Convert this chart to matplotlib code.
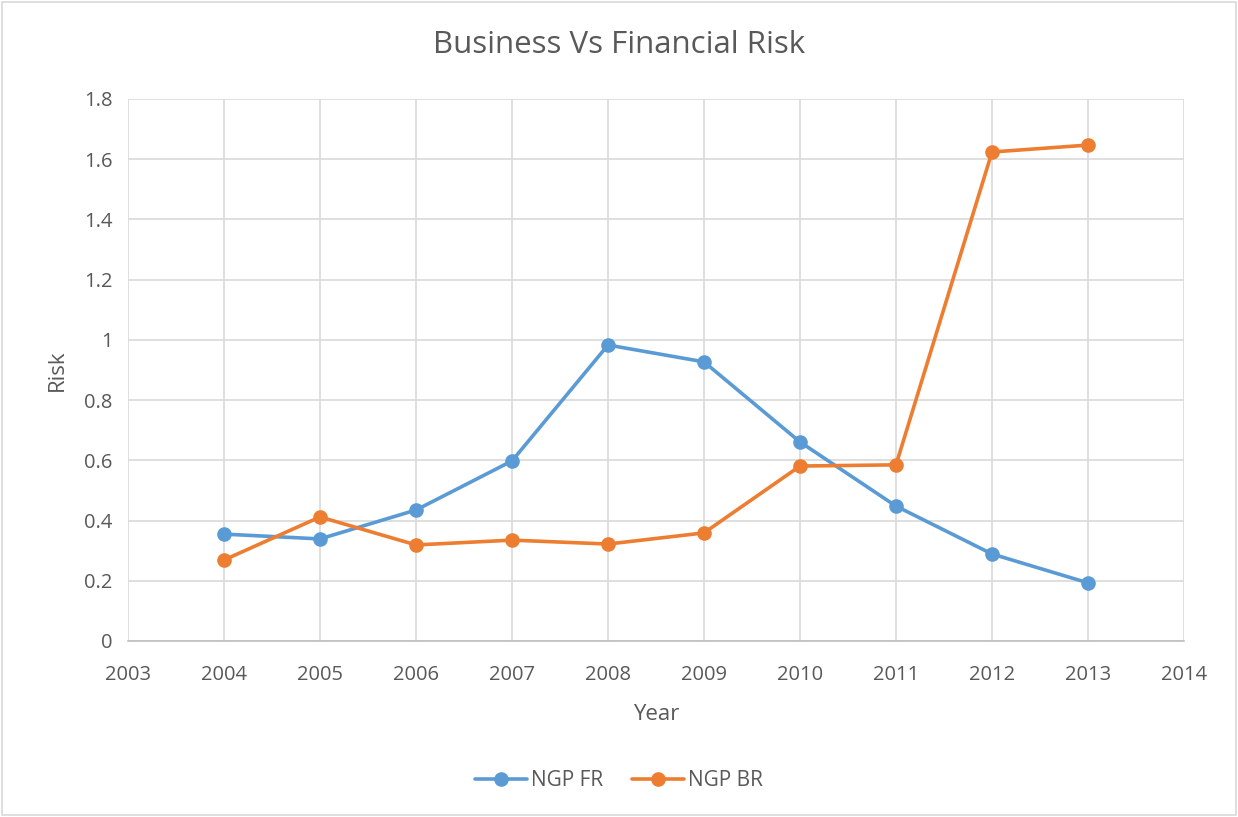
import matplotlib
matplotlib.use('Agg')
import matplotlib.pyplot as plt
from matplotlib.patches import FancyBboxPatch

plt.rcParams['font.family'] = ['Open Sans', 'DejaVu Sans']

# data
years = [2004, 2005, 2006, 2007, 2008, 2009, 2010, 2011, 2012, 2013]
ngp_fr = [0.355, 0.339, 0.435, 0.598, 0.983, 0.927, 0.661, 0.448, 0.289, 0.193]
ngp_br = [0.269, 0.412, 0.319, 0.335, 0.322, 0.359, 0.581, 0.585, 1.624, 1.647]
y_ticks = [0, 0.2, 0.4, 0.6, 0.8, 1, 1.2, 1.4, 1.6, 1.8]
y_labels = ['0', '0.2', '0.4', '0.6', '0.8', '1', '1.2', '1.4', '1.6', '1.8']

txt = '#595959'
grid = '#D9D9D9'

fig = plt.figure(figsize=(12.38, 8.17), dpi=100)
ax = fig.add_axes([128/1238, 1-641/817, (1184-128)/1238, (641-99)/817])

# chart border
fig.patches.append(FancyBboxPatch((0.002, 0.002), 0.996, 0.996, boxstyle='square,pad=0',
                                  transform=fig.transFigure, fill=False,
                                  edgecolor='#D9D9D9', linewidth=1.2))

ax.plot(years, ngp_fr, color='#5B9BD5', lw=2.6, marker='o', ms=9.5,
        label='NGP FR', solid_capstyle='round')
ax.plot(years, ngp_br, color='#ED7D31', lw=2.6, marker='o', ms=9.5,
        label='NGP BR', solid_capstyle='round')

ax.set_xlim(2003, 2014)
ax.set_ylim(0, 1.8)
ax.set_xticks(range(2003, 2015))
ax.set_yticks(y_ticks)
ax.set_yticklabels(y_labels)
ax.grid(True, color=grid, lw=1.2)
ax.set_axisbelow(True)
for s in ['top', 'right', 'left']:
    ax.spines[s].set_visible(False)
ax.spines['bottom'].set_color('#BFBFBF')
ax.spines['bottom'].set_linewidth(1.2)
ax.tick_params(length=0, labelsize=14.5, colors=txt, pad=11)
ax.tick_params(axis='x', pad=17)

ax.set_xlabel('Year', fontsize=16, color=txt, labelpad=14)
ax.set_ylabel('Risk', fontsize=16, color=txt, labelpad=12)
fig.text(0.5, 1-45/817, 'Business Vs Financial Risk', ha='center', va='center',
         fontsize=22.5, color=txt)

fig.legend(loc='center', bbox_to_anchor=(0.5, 1-781/817), ncol=2, frameon=False,
           fontsize=15, labelcolor=txt, handlelength=2.5, columnspacing=1.4,
           handletextpad=0.2)

fig.savefig('out.png', dpi=100, facecolor='white')
